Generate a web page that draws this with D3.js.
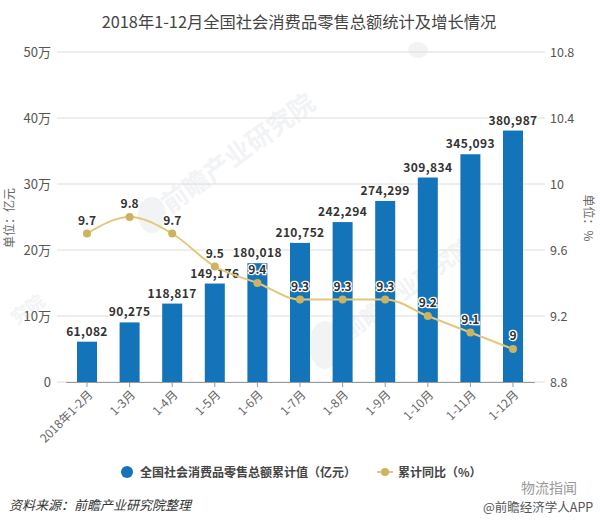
<!DOCTYPE html>
<html>
<head>
<meta charset="utf-8">
<script src="https://cdn.jsdelivr.net/npm/d3@7/dist/d3.min.js"></script>
<style>
  html, body { margin: 0; padding: 0; background: #fff; }
  text { font-family: "Noto Sans CJK SC", "Noto Sans", sans-serif; }
</style>
</head>
<body>
<div id="chart"></div>
<script>
const months = ["2018年1-2月", "1-3月", "1-4月", "1-5月", "1-6月", "1-7月", "1-8月", "1-9月", "1-10月", "1-11月", "1-12月"];
const totals = [61082, 90275, 118817, 149176, 180018, 210752, 242294, 274299, 309834, 345093, 380987];
const growth = [9.7, 9.8, 9.7, 9.5, 9.4, 9.3, 9.3, 9.3, 9.2, 9.1, 9];
const leftTicks = [0, 100000, 200000, 300000, 400000, 500000];
const rightTicks = [8.8, 9.2, 9.6, 10, 10.4, 10.8];

const svg = d3.select("#chart").append("svg")
  .attr("width", 600)
  .attr("height", 523);

const x = d3.scaleBand().domain(months).range([65.7, 534.3]);
const yLeft = d3.scaleLinear().domain([0, 500000]).range([382, 52]);
const yRight = d3.scaleLinear().domain([8.8, 10.8]).range([382, 52]);

// Title
svg.append("text")
  .attr("x", 299).attr("y", 28)
  .attr("text-anchor", "middle")
  .attr("font-size", 16.3)
  .attr("fill", "#444")
  .text("2018年1-12月全国社会消费品零售总额统计及增长情况");

// Watermarks
const marks = [
  [170, 214, 26, "前瞻产业研究院"],
  [350, 340, 22, "前瞻产业研究院"],
  [17, 325, 18, "究院"]
];
svg.selectAll("text.mark")
  .data(marks)
  .enter()
  .append("text")
  .attr("class", "mark")
  .attr("transform", d => `translate(${d[0]},${d[1]}) rotate(-36)`)
  .attr("font-size", d => d[2])
  .attr("font-weight", 700)
  .attr("fill", "#f2f3f5")
  .text(d => d[3]);
svg.selectAll("ellipse.logo")
  .data([[152, 215, 14, 18], [325, 345, 16, 24], [418, 50, 10, 8]])
  .enter()
  .append("ellipse")
  .attr("class", "logo")
  .attr("cx", d => d[0]).attr("cy", d => d[1])
  .attr("rx", d => d[2]).attr("ry", d => d[3])
  .attr("fill", "#f1f3f5");

// Left axis + gridlines
const leftAxis = svg.append("g")
  .attr("transform", "translate(57,0)")
  .call(d3.axisLeft(yLeft).tickValues(leftTicks).tickSize(0).tickPadding(6)
    .tickFormat(d => d === 0 ? "0" : (d / 10000) + "万"));
leftAxis.select(".domain").remove();
leftAxis.selectAll("text").attr("font-size", 13).attr("fill", "#555").attr("font-family", '"Noto Sans CJK SC"');

svg.append("g")
  .selectAll("line")
  .data(leftTicks)
  .enter()
  .append("line")
  .attr("x1", 57).attr("x2", 545)
  .attr("y1", d => yLeft(d)).attr("y2", d => yLeft(d))
  .attr("stroke", "#dcdcdc");

// Right axis
const rightAxis = svg.append("g")
  .attr("transform", "translate(545,0)")
  .call(d3.axisRight(yRight).tickValues(rightTicks).tickSize(0).tickPadding(5)
    .tickFormat(d => d));
rightAxis.select(".domain").remove();
rightAxis.selectAll("text").attr("font-size", 12.5).attr("fill", "#555");

// Bars
svg.selectAll("rect.bar")
  .data(totals)
  .enter()
  .append("rect")
  .attr("class", "bar")
  .attr("x", (d, i) => x(months[i]) + x.bandwidth() / 2 - 10)
  .attr("y", d => yLeft(d))
  .attr("width", 20)
  .attr("height", d => 382 - yLeft(d))
  .attr("fill", "#1474ba");

// Bottom axis
const bottomAxis = svg.append("g")
  .attr("transform", "translate(0,382)")
  .call(d3.axisBottom(x).tickSizeInner(5).tickSizeOuter(0).tickPadding(3));
bottomAxis.select(".domain").attr("stroke", "#999");
bottomAxis.selectAll("line").attr("stroke", "#999");
bottomAxis.selectAll("text")
  .attr("font-size", 12)
  .attr("fill", "#666")
  .attr("text-anchor", "end")
  .attr("dx", "-5")
  .attr("dy", "6")
  .attr("transform", "rotate(-45)");

// Bar labels
svg.selectAll("text.total")
  .data(totals)
  .enter()
  .append("text")
  .attr("class", "total")
  .attr("x", (d, i) => x(months[i]) + x.bandwidth() / 2)
  .attr("y", d => yLeft(d) - 6)
  .attr("text-anchor", "middle")
  .attr("font-size", 12)
  .attr("font-weight", 700)
  .attr("letter-spacing", 0.4)
  .attr("font-family", '"Open Sans"')
  .attr("fill", "#333")
  .attr("stroke", "#fff")
  .attr("stroke-width", 2)
  .attr("paint-order", "stroke")
  .text(d => d3.format(",")(d));

// Growth line
const line = d3.line()
  .x((d, i) => x(months[i]) + x.bandwidth() / 2)
  .y(d => yRight(d))
  .curve(d3.curveMonotoneX);
svg.append("path")
  .datum(growth)
  .attr("d", line)
  .attr("fill", "none")
  .attr("stroke", "#e2c878")
  .attr("stroke-width", 2);

svg.selectAll("circle.pt")
  .data(growth)
  .enter()
  .append("circle")
  .attr("class", "pt")
  .attr("cx", (d, i) => x(months[i]) + x.bandwidth() / 2)
  .attr("cy", d => yRight(d))
  .attr("r", 4)
  .attr("fill", "#cdb35f");

svg.selectAll("text.growth")
  .data(growth)
  .enter()
  .append("text")
  .attr("class", "growth")
  .attr("x", (d, i) => x(months[i]) + x.bandwidth() / 2)
  .attr("y", d => yRight(d) - 9)
  .attr("text-anchor", "middle")
  .attr("font-size", 12)
  .attr("font-weight", 700)
  .attr("font-family", '"Open Sans"')
  .attr("fill", "#333")
  .attr("stroke", "#fff")
  .attr("stroke-width", 2.5)
  .attr("paint-order", "stroke")
  .text(d => d);

// Axis titles
svg.append("text")
  .attr("transform", "translate(14,218) rotate(-90)")
  .attr("text-anchor", "middle")
  .attr("font-size", 12)
  .attr("fill", "#666")
  .text("单位：亿元");
svg.append("text")
  .attr("transform", "translate(584,218) rotate(90)")
  .attr("text-anchor", "middle")
  .attr("font-size", 12)
  .attr("fill", "#666")
  .text("单位：%");

// Legend
svg.append("circle")
  .attr("cx", 127).attr("cy", 472).attr("r", 6)
  .attr("fill", "#1474ba");
svg.append("text")
  .attr("x", 140).attr("y", 477)
  .attr("font-size", 12)
  .attr("font-weight", 700)
  .attr("fill", "#444")
  .text("全国社会消费品零售总额累计值（亿元）");
svg.append("line")
  .attr("x1", 377).attr("x2", 393).attr("y1", 472).attr("y2", 472)
  .attr("stroke", "#e2c878").attr("stroke-width", 2);
svg.append("circle")
  .attr("cx", 385).attr("cy", 472).attr("r", 4)
  .attr("fill", "#cdb35f");
svg.append("text")
  .attr("x", 398).attr("y", 477)
  .attr("font-size", 12)
  .attr("font-weight", 700)
  .attr("fill", "#444")
  .text("累计同比（%）");

// Source + account marks
svg.append("text")
  .attr("x", 9).attr("y", 510)
  .attr("font-size", 13)
  .attr("font-style", "italic")
  .attr("fill", "#333")
  .text("资料来源：前瞻产业研究院整理");
svg.append("text")
  .attr("x", 521).attr("y", 493)
  .attr("font-size", 14)
  .attr("fill", "#999")
  .text("物流指闻");
svg.append("text")
  .attr("x", 483).attr("y", 512)
  .attr("font-size", 12.5)
  .attr("fill", "#555")
  .text("@前瞻经济学人APP");
</script>
</body>
</html>
